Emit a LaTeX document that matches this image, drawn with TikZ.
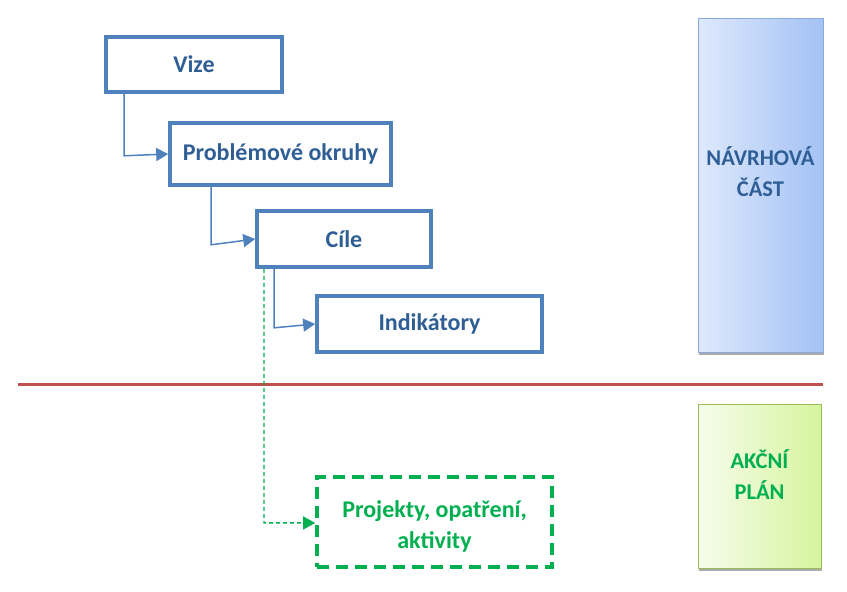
\documentclass[tikz,border=0pt]{standalone}
\usepackage{fontspec}
\setmainfont{Carlito}
\usetikzlibrary{arrows.meta}
\definecolor{bbord}{HTML}{4F81BD}
\definecolor{btext}{HTML}{2F5E95}
\definecolor{gtext}{HTML}{00B050}
\definecolor{redl}{HTML}{C0504D}
\definecolor{gbord}{HTML}{9BBB59}
\begin{document}
\begin{tikzpicture}[x=1pt,y=-1pt,
  bluebox/.style={draw=bbord,line width=3.6pt,fill=white,text=btext,font=\fontsize{24}{28}\selectfont\bfseries,inner sep=0pt},
  link/.style={draw=bbord,line width=1.5pt,-{Triangle[length=12pt,width=13pt]}},
  glink/.style={draw=gtext,line width=1.4pt,dash pattern=on 4pt off 3pt,-{Triangle[length=12pt,width=13pt]}},
  sidetext/.style={font=\fontsize{22.5}{31}\selectfont\bfseries,align=center}]
\useasboundingbox (0,0) rectangle (847,592);
% side panels
\fill[gray!65] (699,20) rectangle (824,355);
\shade[left color={rgb,255:red,222;green,233;blue,252}, right color={rgb,255:red,164;green,194;blue,245}, draw={rgb,255:red,140;green,170;blue,215}, line width=0.8pt] (698,18) rectangle (823,352);
\node[sidetext,text=btext] (navrh) at (760.5,172) {NÁVRHOVÁ\\ČÁST};
\fill[gray!65] (699,406) rectangle (822,571);
\shade[left color={rgb,255:red,246;green,252;blue,236}, right color={rgb,255:red,214;green,245;blue,158}, draw=gbord, line width=0.8pt] (698,404) rectangle (821,568);
\node[sidetext,text=gtext] (akce) at (759.5,475) {AKČNÍ\\PLÁN};
% red line
\draw[redl,line width=3pt] (18,384) coordinate (rl1) -- (823,384) coordinate (rl2);
% boxes
\node[bluebox,minimum width=176pt,minimum height=55pt] (vize) at (194,64.5) {Vize};
\node[bluebox,minimum width=221pt,minimum height=62pt] (prob) at (280.5,154) {Problémové okruhy};
\node[bluebox,minimum width=174pt,minimum height=56pt] (cile) at (344,239) {Cíle};
\node[bluebox,minimum width=225pt,minimum height=56pt] (ind) at (429.5,324) {Indikátory};
\node[draw=gtext,line width=3.6pt,dash pattern=on 12pt off 7pt,fill=white,text=gtext,font=\fontsize{24}{31}\selectfont\bfseries,align=center,minimum width=235pt,minimum height=90pt,inner sep=0pt] (proj) at (434.5,522) {};
\node[text=gtext,font=\fontsize{24}{31}\selectfont\bfseries,align=center] (projt) at (434.5,526) {Projekty, opatření,\\aktivity};
% connectors
\draw[link] ([xshift=-70pt]vize.south) -- ++(0,62) -- (prob.west);
\draw[link] ([xshift=-69.5pt]prob.south) -- ++(0,58) -- (cile.west);
\draw[link] ([xshift=-70pt]cile.south) -- ++(0,59) -- (ind.west);
\draw[glink] ([xshift=-80pt]cile.south) -- ++(0,254) -- ([yshift=-1pt]proj.west);
\end{tikzpicture}
\end{document}
